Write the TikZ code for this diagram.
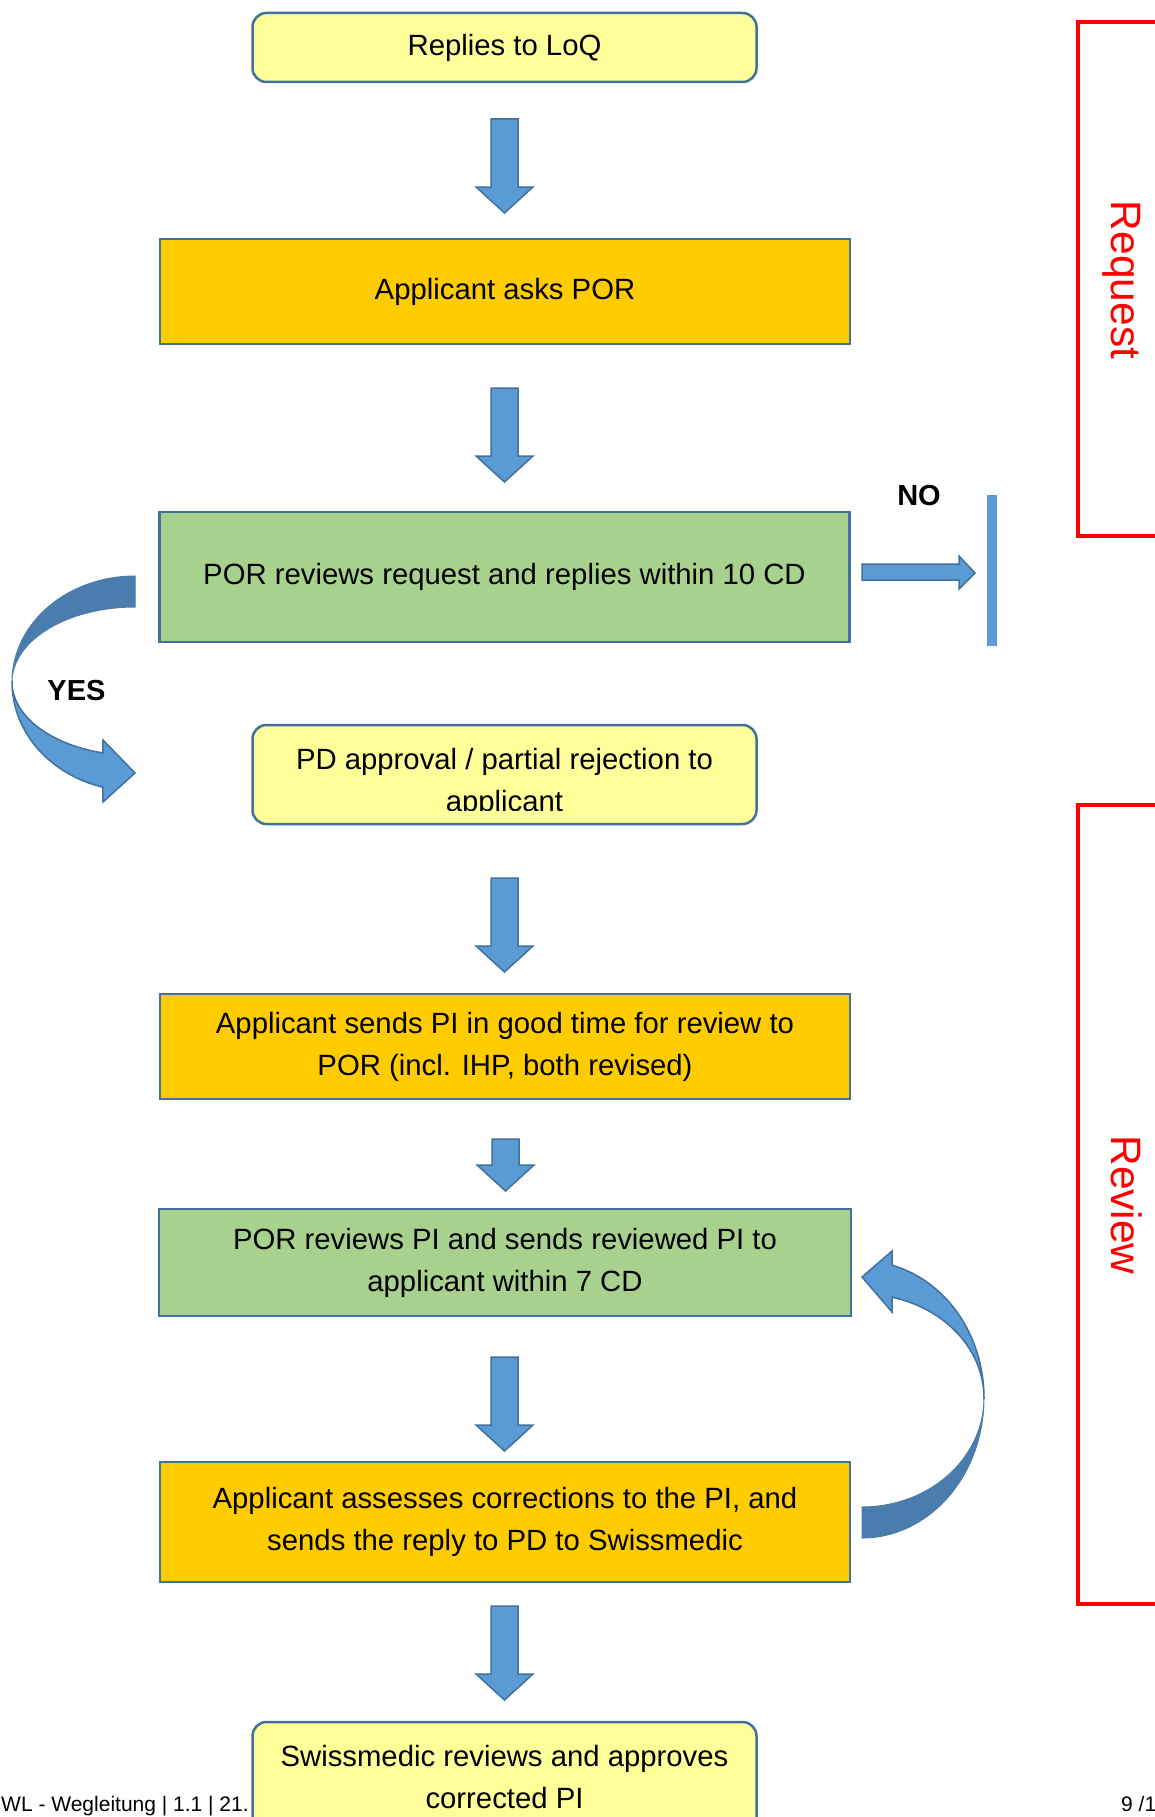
\documentclass[tikz,border=0pt]{standalone}
\usepackage{fontspec}
\setmainfont{Liberation Sans}

\definecolor{boxline}{HTML}{41719C}
\definecolor{arrowblue}{HTML}{5B9BD5}
\definecolor{arrowdark}{HTML}{4A7DAD}
\definecolor{paleyellow}{HTML}{FFFF99}
\definecolor{gold}{HTML}{FFCC00}
\definecolor{lightgreen}{HTML}{A9D18E}

\tikzset{
  stepbox/.style={draw=boxline, line width=2.5pt, minimum width=690pt, align=center,
    inner sep=0pt, font=\fontsize{29.3}{42}\selectfont},
  orangebox/.style={stepbox, fill=gold},
  greenbox/.style={stepbox, fill=lightgreen},
  yellowbox/.style={stepbox, fill=paleyellow, rounded corners=14pt, minimum width=504pt},
  arrowbody/.style={fill=arrowblue, draw=boxline, line width=1.5pt},
  arrowback/.style={fill=arrowdark, draw=arrowdark, line width=1pt},
  redline/.style={draw=red, line width=4pt},
  sidelabel/.style={text=red, font=\fontsize{42.5}{50}\selectfont, rotate=-90, anchor=base},
  answer/.style={font=\bfseries\fontsize{29}{35}\selectfont},
  pics/blockarrow/.style={code={
    \draw[arrowbody] (-13.5,0) -- (-13.5,#1) -- (-28.5,#1) -- (0,#1+26) -- (28.5,#1)
      -- (13.5,#1) -- (13.5,0) -- cycle;
  }},
}

\begin{document}
\begin{tikzpicture}[x=1pt, y=-1pt]
    \useasboundingbox (0,0) rectangle (1155,1817);
    \fill[white] (0,0) rectangle (1155,1817);

    % footer, partly hidden by the last box
    \node[anchor=base west, inner sep=0pt, font=\fontsize{21}{25}\selectfont] (footleft)
        at (1,1811) {WL - Wegleitung | 1.1 | 21.};
    \node[anchor=base west, inner sep=0pt, font=\fontsize{21}{25}\selectfont] (footright)
        at (1121,1811) {9 /1};

    % process steps
    \node[yellowbox, minimum height=69pt] (loq) at (504.5,47.5) {Replies to LoQ};
    \node[orangebox, minimum height=105pt] (asks) at (505,291.5) {Applicant asks POR};
    \node[greenbox, minimum height=130pt] (reviewreq) at (504.5,577)
        {POR reviews request and replies within 10 CD};
    \node[yellowbox, minimum height=99pt] (pd) at (504.5,774.5) {};
    \begin{scope}
        \clip (252,726) rectangle (757,810);
        \node[stepbox, draw=none, minimum width=0pt] (pdtext) at (504.5,783)
            {PD approval / partial rejection to\\applicant};
    \end{scope}
    \node[orangebox, minimum height=105pt] (sendspi) at (505,1046.5)
        {Applicant sends PI in good time for review to\\POR (incl. IHP, both revised)};
    \node[greenbox, minimum height=107pt, minimum width=692pt] (reviewpi) at (505,1262.5)
        {POR reviews PI and sends reviewed PI to\\applicant within 7 CD};
    \node[orangebox, minimum height=120pt] (assess) at (505,1522)
        {Applicant assesses corrections to the PI, and\\sends the reply to PD to Swissmedic};
    \node[yellowbox, minimum height=110pt] (approve) at (504.5,1777)
        {Swissmedic reviews and approves\\corrected PI};

    % block arrows between the steps
    \pic at (504.5,119) {blockarrow=68};
    \pic at (504.5,388) {blockarrow=68};
    \pic at (504.5,878) {blockarrow=68};
    \pic at (505.5,1139) {blockarrow=26};
    \pic at (504.5,1357) {blockarrow=68};
    \pic at (504.5,1606) {blockarrow=68};

    % NO branch
    \node[answer] (no) at (919,496) {NO};
    \draw[arrowbody] (862,564) -- (959,564) -- (959,556) -- (975,573) -- (959,589)
        -- (959,580) -- (862,580) -- cycle;
    \fill[arrowblue] (987,495) rectangle (997,646);

    % YES branch
    \node[answer] (yes) at (76.5,691) {YES};
    \filldraw[arrowback] plot[domain=-90:-180, samples=40] ({135+123*cos(\x)},{682+106*sin(\x)})
        -- plot[domain=-180:-90, samples=40] ({135+123*cos(\x)},{682+75*sin(\x)}) -- cycle;
    \filldraw[arrowbody] plot[domain=180:105.1, samples=40] ({135+123*cos(\x)},{682+109*sin(\x)})
        -- (103,802) -- (135,773) -- (103,740)
        -- plot[domain=105.1:180, samples=40] ({135+123*cos(\x)},{682+73.5*sin(\x)}) -- cycle;

    % loop back from assessment to review
    \filldraw[arrowback] plot[domain=90:0, samples=40] ({862+122*cos(\x)},{1398+140*sin(\x)})
        -- plot[domain=0:90, samples=40] ({862+122*cos(\x)},{1398+109*sin(\x)}) -- cycle;
    \filldraw[arrowbody] plot[domain=0:-75.76, samples=40] ({862+122*cos(\x)},{1398+137*sin(\x)})
        -- (892,1251) -- (862,1277) -- (892,1312)
        -- plot[domain=-75.76:0, samples=40] ({862+122*cos(\x)},{1398+104*sin(\x)}) -- cycle;

    % phases
    \draw[redline] (1160,22) -- (1078,22) -- (1078,536) -- (1160,536);
    \node[sidelabel] (request) at (1111,280) {Request};
    \draw[redline] (1160,805) -- (1078,805) -- (1078,1604) -- (1160,1604);
    \node[sidelabel] (review) at (1111,1205) {Review};
\end{tikzpicture}
\end{document}
